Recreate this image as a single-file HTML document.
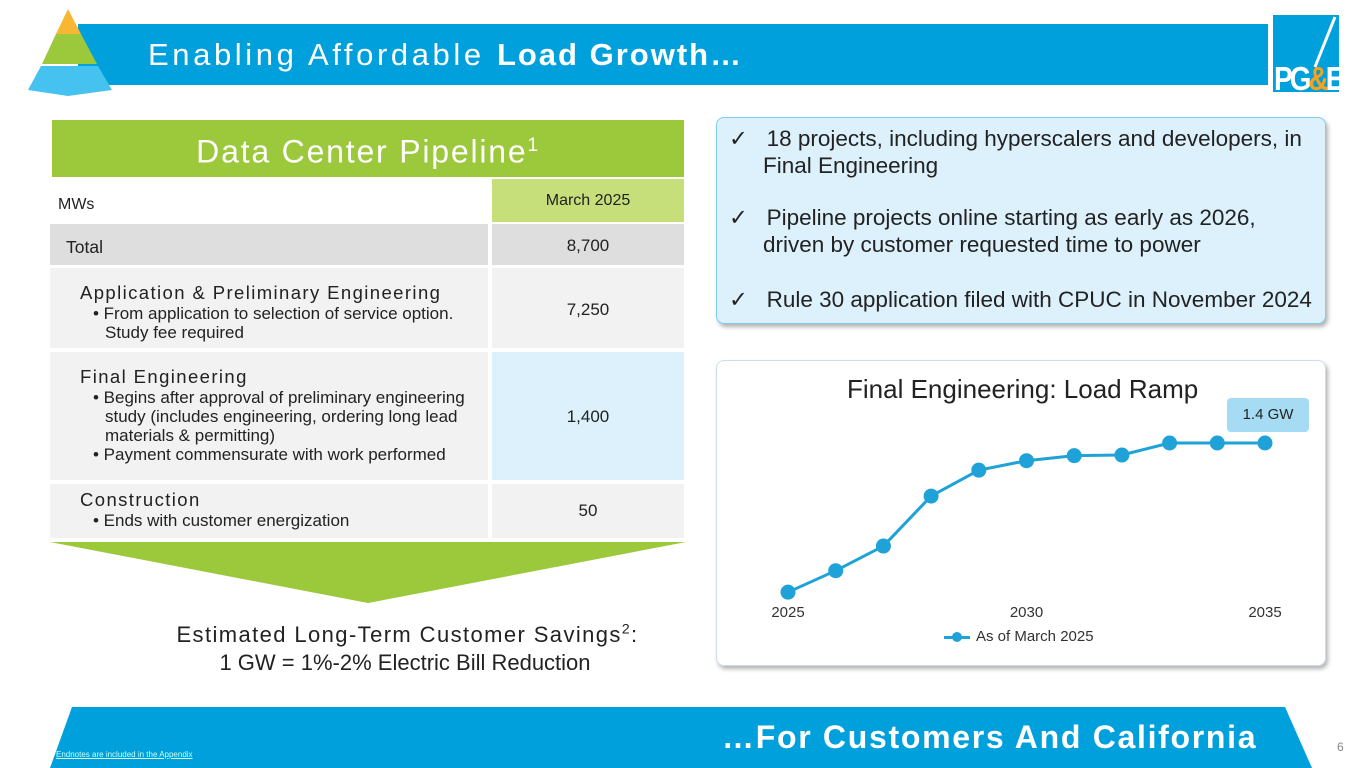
<!DOCTYPE html>
<html><head><meta charset="utf-8">
<style>
*{margin:0;padding:0;box-sizing:border-box}
body{width:1365px;height:768px;position:relative;background:#fff;font-family:"Liberation Sans",sans-serif;overflow:hidden}
.a{position:absolute}
.cell{position:absolute;background:#f2f2f2}
.ttl{font-size:18.5px;color:#222;letter-spacing:1.4px;line-height:22px}
.bul{font-size:17px;color:#222;line-height:19px;padding-left:25px;text-indent:-12px}
.num{position:absolute;font-size:17px;color:#222;text-align:center;width:192px}
</style></head><body>
<div class="a" style="left:78px;top:24px;width:1190px;height:61px;background:#00a0dc"></div>
<svg class="a" style="left:20px;top:6px" width="100" height="94">
<polygon points="48,3 61,28 36,28" fill="#f7b733"/>
<polygon points="36,28 61,28 77,58 22,58" fill="#9cc83c"/>
<polygon points="21,60 78,60 92,84 48,90 8,84" fill="#45c2f0"/>
</svg>
<div class="a" style="left:148px;top:37px;font-size:31px;color:#fff;letter-spacing:3.6px">Enabling Affordable <b style="letter-spacing:2px">Load Growth…</b></div>
<div class="a" style="left:1273px;top:15px;width:66px;height:77px;background:#00a0dc;overflow:hidden">
<svg class="a" style="left:0;top:0" width="66" height="77"><line x1="62" y1="2" x2="42" y2="52" stroke="#fff" stroke-width="3"/></svg>
<div class="a" style="left:1px;top:48px;font-size:28px;font-weight:bold;color:#fff;letter-spacing:-3px;transform:scaleY(1.2)">PG<span style="color:#f7a21b">&amp;</span>E</div>
</div>

<div class="a" style="left:52px;top:120px;width:632px;height:57px;background:#9cc83c;color:#fff;font-size:32px;text-align:center;line-height:52px;letter-spacing:1.8px">Data Center Pipeline<sup style="font-size:19px">1</sup></div>
<div class="a" style="left:58px;top:196px;font-size:16px;color:#222">MWs</div>
<div class="cell" style="left:492px;top:179px;width:192px;height:43px;background:#c6df7a"></div>
<div class="num" style="left:492px;top:192px;font-size:16px">March 2025</div>
<div class="cell" style="left:50px;top:224px;width:438px;height:41px;background:#dedede"></div>
<div class="cell" style="left:492px;top:224px;width:192px;height:41px;background:#dedede"></div>
<div class="a" style="left:66px;top:237px;font-size:17.5px;color:#222">Total</div>
<div class="num" style="left:492px;top:236px">8,700</div>
<div class="cell" style="left:50px;top:268px;width:438px;height:80px"></div>
<div class="cell" style="left:492px;top:268px;width:192px;height:80px"></div>
<div class="a" style="left:80px;top:282px;width:392px"><div class="ttl">Application &amp; Preliminary Engineering</div><div class="bul">• From application to selection of service option. Study fee required</div></div>
<div class="num" style="left:492px;top:300px">7,250</div>
<div class="cell" style="left:50px;top:352px;width:438px;height:128px"></div>
<div class="cell" style="left:492px;top:352px;width:192px;height:128px;background:#dcf1fb"></div>
<div class="a" style="left:80px;top:366px;width:398px"><div class="ttl">Final Engineering</div><div class="bul">• Begins after approval of preliminary engineering study (includes engineering, ordering long lead materials &amp; permitting)</div><div class="bul">• Payment commensurate with work performed</div></div>
<div class="num" style="left:492px;top:407px">1,400</div>
<div class="cell" style="left:50px;top:484px;width:438px;height:54px"></div>
<div class="cell" style="left:492px;top:484px;width:192px;height:54px"></div>
<div class="a" style="left:80px;top:489px;width:400px"><div class="ttl">Construction</div><div class="bul">• Ends with customer energization</div></div>
<div class="num" style="left:492px;top:501px">50</div>
<svg class="a" style="left:50px;top:542px" width="636" height="62"><polygon points="0,0 636,0 318,61" fill="#9cc83c"/></svg>
<div class="a" style="left:105px;top:615px;width:600px;text-align:center;font-size:22px;color:#222;line-height:28px"><span style="letter-spacing:1.4px;margin-left:5px">Estimated Long-Term Customer Savings<sup style="font-size:14px">2</sup>:</span><br>1 GW = 1%-2% Electric Bill Reduction</div>

<div class="a" style="left:716px;top:117px;width:610px;height:207px;background:#dcf1fb;border:1px solid #7fcdee;border-radius:8px;box-shadow:2px 3px 4px rgba(0,0,0,.3);font-size:22.5px;color:#222;line-height:27px;padding:7px 12px 0 12px">
<div style="padding-left:34px;text-indent:-34px">✓&nbsp;&nbsp;&nbsp;18 projects, including hyperscalers and developers, in Final Engineering</div>
<div style="padding-left:34px;text-indent:-34px;margin-top:25px">✓&nbsp;&nbsp;&nbsp;Pipeline projects online starting as early as 2026, driven by customer requested time to power</div>
<div style="padding-left:34px;text-indent:-34px;margin-top:28px">✓&nbsp;&nbsp;&nbsp;Rule 30 application filed with CPUC in November 2024</div>
</div>

<div class="a" style="left:716px;top:360px;width:610px;height:306px;border:1px solid #cde;border-radius:8px;box-shadow:2px 3px 4px rgba(0,0,0,.3)"></div>
<div class="a" style="left:847px;top:374px;font-size:26px;color:#222">Final Engineering: Load Ramp</div>
<div class="a" style="left:1227px;top:398px;width:82px;height:34px;background:#a5dcf3;border-radius:4px;font-size:15px;color:#222;text-align:center;line-height:34px">1.4 GW</div>
<svg class="a" id="chart" style="left:716px;top:360px" width="610" height="306"></svg>
<script>
const years=[2025,2026,2027,2028,2029,2030,2031,2032,2033,2034,2035];
const loadMW=[220,390,585,980,1185,1260,1300,1305,1400,1400,1400];
const tickYears=[2025,2030,2035];
const svg=document.getElementById('chart');
const NS='http://www.w3.org/2000/svg';
const x=y=>72+(y-2025)*47.7;
const yv=v=>260-v*(177/1400);
let d='';
years.forEach((yr,i)=>{d+=(i?'L':'M')+x(yr)+','+yv(loadMW[i]);});
const p=document.createElementNS(NS,'path');
p.setAttribute('d',d);p.setAttribute('fill','none');p.setAttribute('stroke','#1ea2d8');p.setAttribute('stroke-width','3');


svg.appendChild(p);
years.forEach((yr,i)=>{const c=document.createElementNS(NS,'circle');
c.setAttribute('cx',x(yr));c.setAttribute('cy',yv(loadMW[i]));c.setAttribute('r','7.5');c.setAttribute('fill','#1ea2d8');


svg.appendChild(c);});
tickYears.forEach(t=>{const tx=document.createElementNS(NS,'text');
tx.setAttribute('x',x(t));tx.setAttribute('y','257');tx.setAttribute('text-anchor','middle');
tx.setAttribute('font-size','15');tx.setAttribute('fill','#333');tx.setAttribute('font-family','Liberation Sans');tx.textContent=t;


svg.appendChild(tx);});
</script>
<div class="a" style="left:944px;top:628px;font-size:15px;color:#333"><span style="display:inline-block;width:26px;height:3px;background:#1ea2d8;vertical-align:middle;position:relative;margin-right:6px"><span style="position:absolute;left:8px;top:-4px;width:10px;height:10px;border-radius:5px;background:#1ea2d8"></span></span>As of March 2025</div>

<svg class="a" style="left:0;top:707px" width="1365" height="61"><polygon points="72,0 1285,0 1312,61 50,61" fill="#00a0dc"/></svg>
<div class="a" style="left:722px;top:719px;font-size:32px;font-weight:bold;color:#fff;letter-spacing:1.7px">…For Customers And California</div>
<div class="a" style="left:56px;top:750px;font-size:8px;color:#cfe;text-decoration:underline">Endnotes are included in the Appendix</div>
<div class="a" style="left:1337px;top:740px;font-size:12px;color:#888">6</div>
</body></html>
